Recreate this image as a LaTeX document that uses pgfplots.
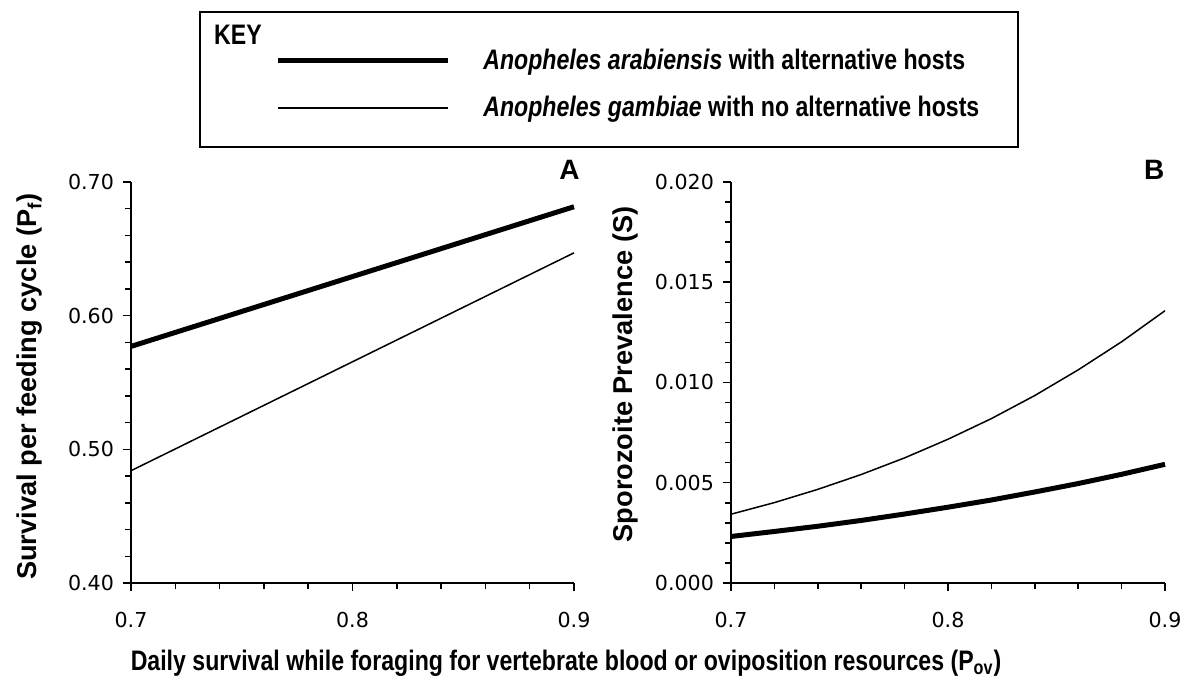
\documentclass[border=0pt]{standalone}
\usepackage{fontspec}
\setmainfont{Liberation Sans}
\newfontfamily\narrowfont{Liberation Sans}[FakeStretch=0.82]
\newfontfamily\tickfont{DejaVu Sans}
\usepackage{pgfplots}
\pgfplotsset{compat=1.18}

\pgfplotstableread{
x thick thin
0.70 0.5770 0.4840
0.90 0.6815 0.6470
}\tableA

\pgfplotstableread{
x thick thin
0.70 0.00232 0.00343
0.72 0.00257 0.00401
0.74 0.00283 0.00467
0.76 0.00312 0.00541
0.78 0.00344 0.00624
0.80 0.00378 0.00717
0.82 0.00414 0.00820
0.84 0.00454 0.00935
0.86 0.00496 0.01063
0.88 0.00542 0.01203
0.90 0.00592 0.01358
}\tableB

\pgfplotsset{common/.style={
  scale only axis, height=200.5pt,
  separate axis lines, axis x line*=bottom, axis y line*=left,
  axis line style={-, line width=0.75pt, black},
  tick align=outside, major tick length=4pt, minor tick length=3pt,
  every tick/.style={black, line width=0.75pt},
  xmin=0.7, xmax=0.9, xtick={0.7,0.8,0.9}, minor x tick num=4, minor y tick num=4,
  /pgf/number format/assume math mode=true,
  tick label style={font=\tickfont\fontsize{10.3}{12}\selectfont},
  xticklabel style={/pgf/number format/fixed, /pgf/number format/fixed zerofill, /pgf/number format/precision=1, yshift=-7pt},
  yticklabel style={xshift=-1pt},
  clip=false,
  ylabel style={font=\bfseries\fontsize{13.6}{16}\selectfont, rotate=0},
}}

\begin{document}
\begin{tikzpicture}
\useasboundingbox (0,0) rectangle (600pt,342pt);
% key frame
\draw[line width=1pt] (100pt,268.5pt) rectangle (509pt,336pt);
\node[font=\narrowfont\bfseries\fontsize{14.1}{16}\selectfont, anchor=center] at (119pt,324.5pt) {KEY};

\begin{axis}[common,
  at={(65.5pt,50.5pt)}, anchor=south west, width=221.5pt,
  ymin=0.4, ymax=0.7, ytick={0.4,0.5,0.6,0.7},
  yticklabel style={/pgf/number format/fixed, /pgf/number format/fixed zerofill, /pgf/number format/precision=2},
  ylabel={Survival per feeding cycle (P\textsubscript{f})},
  ylabel style={at={(axis description cs:-0.228,0.49)}, anchor=center},
  xlabel={Daily survival while foraging for vertebrate blood or oviposition resources (P\textsubscript{ov})},
  xlabel style={font=\narrowfont\bfseries\fontsize{14.1}{16}\selectfont, at={(axis description cs:0.982,-0.2)}, anchor=center},
  legend style={at={(axis description cs:0.325,1.343)}, anchor=north west, draw=none, fill=none,
    font=\narrowfont\bfseries\fontsize{14.1}{16}\selectfont, row sep=8pt, column sep=14.5pt,
    inner sep=0pt, cells={anchor=west}},
  legend image code/.code={\draw[#1] (0pt,0pt) -- (85pt,0pt);},
]
\addplot[black, line width=2.5pt] table[x=x, y=thick] {\tableA};
\addlegendentry{\textit{Anopheles arabiensis} with alternative hosts}
\addplot[black, line width=0.75pt] table[x=x, y=thin] {\tableA};
\addlegendentry{\textit{Anopheles gambiae} with no alternative hosts}
\node[font=\bfseries\fontsize{14}{16}\selectfont] at (axis description cs:0.99,1.03) {A};
\end{axis}

\begin{axis}[common,
  at={(365.5pt,50.5pt)}, anchor=south west, width=217pt,
  ymin=0, ymax=0.02, ytick={0,0.005,0.01,0.015,0.02},
  yticklabel style={/pgf/number format/fixed, /pgf/number format/fixed zerofill, /pgf/number format/precision=3},
  scaled y ticks=false,
  ylabel={Sporozoite Prevalence (S)},
  ylabel style={at={(axis description cs:-0.244,0.52)}, anchor=center},
]
\addplot[black, line width=2.5pt] table[x=x, y=thick] {\tableB};
\addplot[black, line width=0.75pt] table[x=x, y=thin] {\tableB};
\node[font=\bfseries\fontsize{14}{16}\selectfont] at (axis description cs:0.975,1.03) {B};
\end{axis}
\end{tikzpicture}
\end{document}
